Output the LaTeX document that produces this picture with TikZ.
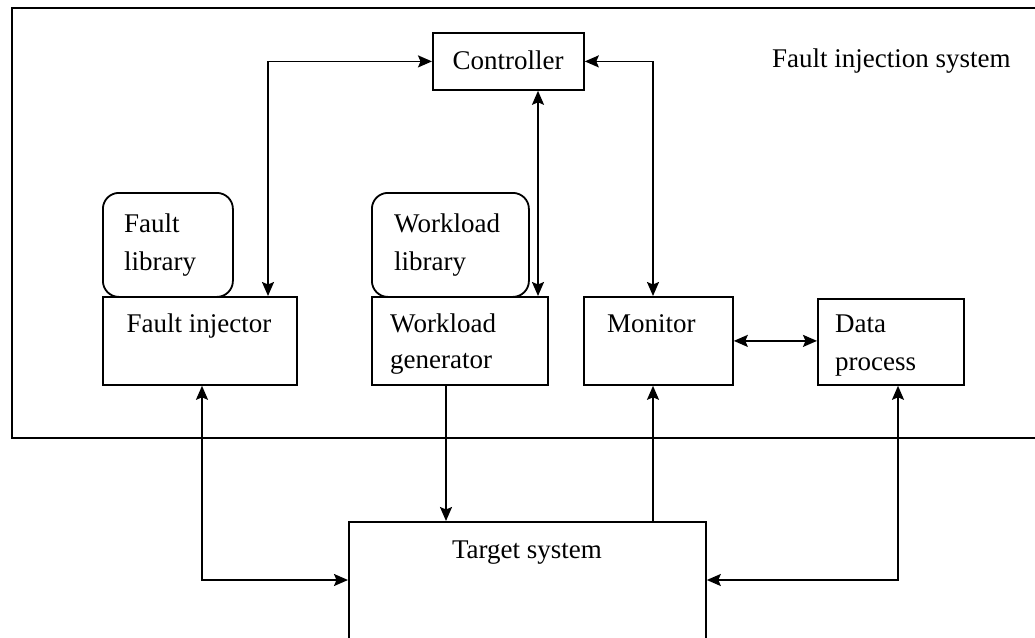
\documentclass[tikz,border=0pt]{standalone}
\usepackage{fontspec}
\setmainfont{Liberation Serif}
\usetikzlibrary{arrows.meta,calc}
\begin{document}
\begin{tikzpicture}[x=1pt,y=-1pt,
  box/.style={draw, line width=1.8pt, inner sep=0pt, anchor=north west, rectangle},
  libbox/.style={box, rounded corners=16pt},
  txt/.style={inner sep=0pt, font=\fontsize{27}{33}\selectfont},
  tip/.tip={Stealth[length=14pt,width=12pt,inset=2.5pt]},
  link/.style={line width=1.8pt},
  both/.style={link, tip-tip},
  oneway/.style={link, -tip}]
\useasboundingbox (0,0) rectangle (1035,637);
\fill[white] (0,0) rectangle (1035,637);

% system frame (open to the right of the page)
\node[box, minimum width=1040pt, minimum height=430pt] (frame) at (11,7) {};

% blocks
\node[box, minimum width=151pt, minimum height=57pt] (ctrl) at (432,32) {};
\node[libbox, minimum width=130pt, minimum height=104pt] (flib) at (102,192) {};
\node[box, minimum width=194pt, minimum height=88pt] (finj) at (102,296) {};
\node[libbox, minimum width=157pt, minimum height=104pt] (wlib) at (371,192) {};
\node[box, minimum width=176pt, minimum height=88pt] (wgen) at (371,296) {};
\node[box, minimum width=149pt, minimum height=88pt] (mon) at (583,296) {};
\node[box, minimum width=146pt, minimum height=86pt] (dp) at (817,298) {};
\node[box, minimum width=357pt, minimum height=140pt] (tgt) at (348,521) {};

% labels
\node[txt, anchor=base] (ctrlT) at (508,69) {Controller};
\node[txt, anchor=base west] (sysT) at (772,67) {Fault injection system};
\node[txt, anchor=base west] (flibA) at (124,232) {Fault};
\node[txt, anchor=base west] (flibB) at (124,270) {library};
\node[txt, anchor=base] (finjT) at (199,332) {Fault injector};
\node[txt, anchor=base west] (wlibA) at (394,232) {Workload};
\node[txt, anchor=base west] (wlibB) at (394,270) {library};
\node[txt, anchor=base west] (wgenA) at (390,332) {Workload};
\node[txt, anchor=base west] (wgenB) at (390,368) {generator};
\node[txt, anchor=base west] (monT) at (607,332) {Monitor};
\node[txt, anchor=base west] (dpA) at (835,332) {Data};
\node[txt, anchor=base west] (dpB) at (835,370) {process};
\node[txt, anchor=base] (tgtT) at (527,558) {Target system};

% connector tracks
\coordinate (fx) at (268,0);
\coordinate (cx) at (538,0);
\coordinate (mx) at (653,0);
\coordinate (jx) at (202,0);
\coordinate (gx) at (446,0);
\coordinate (px) at (898,0);
\coordinate (low) at (0,580);

% connectors
\draw[both] (ctrl.west) -| (fx |- finj.north);
\draw[both] (cx |- ctrl.south) -- (cx |- wgen.north);
\draw[both] (ctrl.east) -| (mx |- mon.north);
\draw[both] (mon.east) -- (dp.west |- mon.east);
\draw[both] (jx |- finj.south) |- (tgt.west |- low);
\draw[oneway] (gx |- wgen.south) -- (gx |- tgt.north);
\draw[oneway] (mx |- tgt.north) -- (mx |- mon.south);
\draw[both] (px |- dp.south) |- (tgt.east |- low);
\end{tikzpicture}
\end{document}
